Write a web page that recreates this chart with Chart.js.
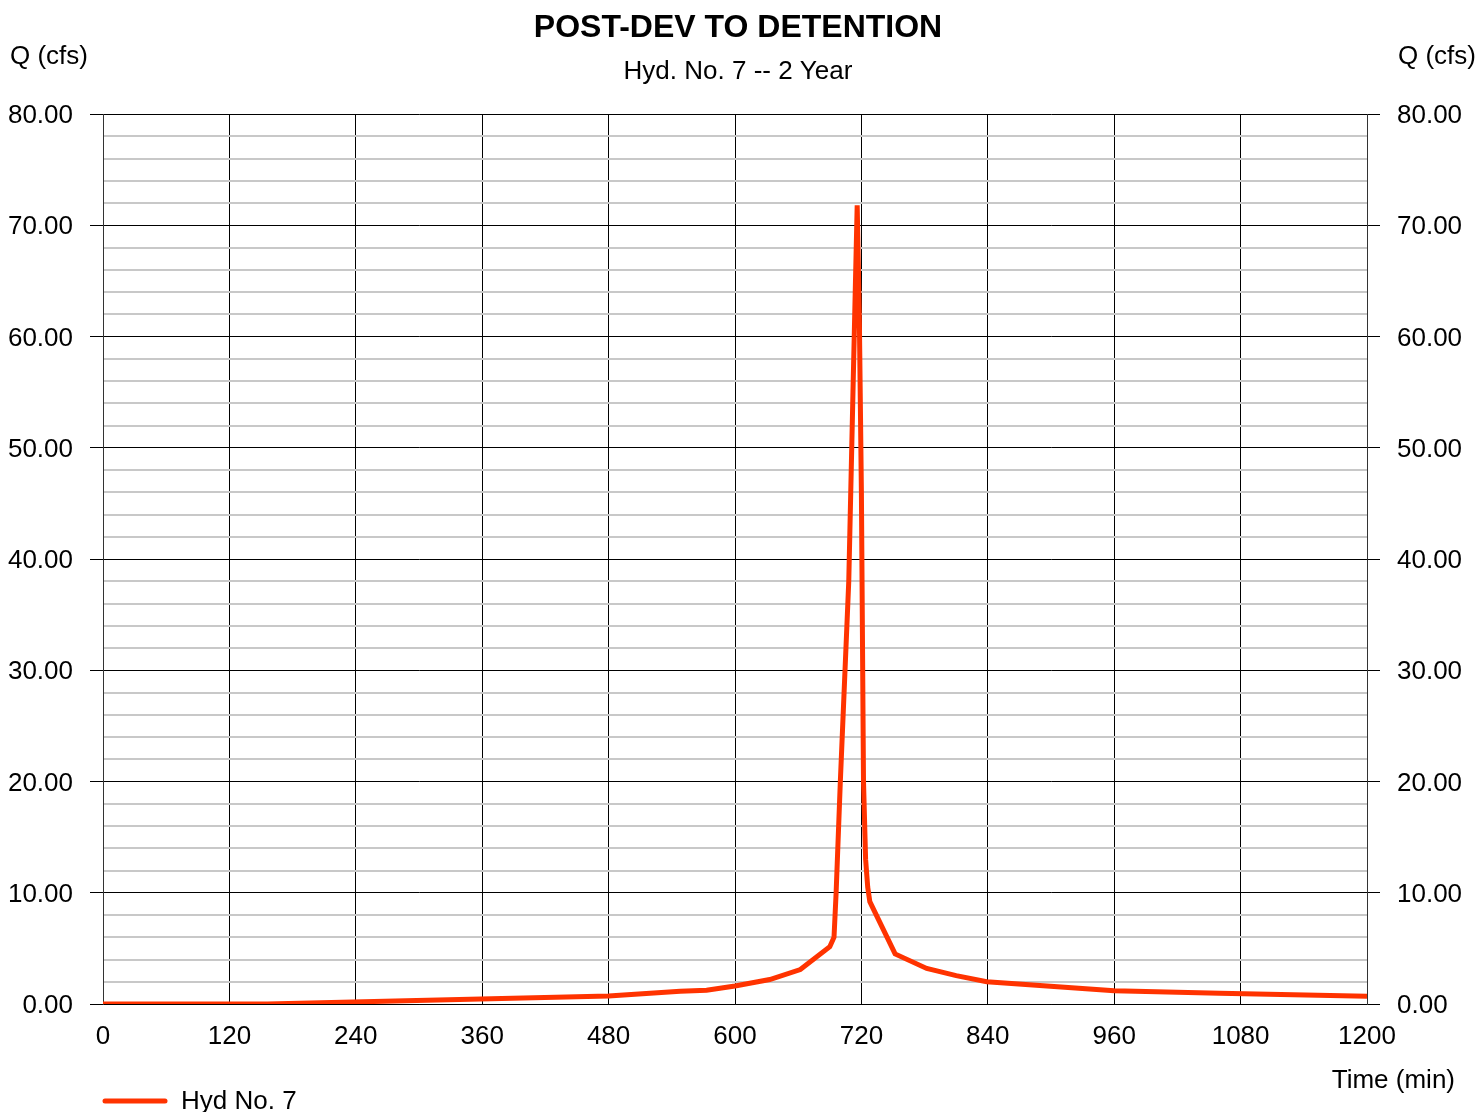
<!DOCTYPE html>
<html>
<head>
<meta charset="utf-8">
<title>POST-DEV TO DETENTION</title>
<script src="https://cdn.jsdelivr.net/npm/chart.js@4/dist/chart.umd.min.js"></script>
<style>
  html, body { margin: 0; padding: 0; background: #fff; }
  #wrap { width: 1476px; height: 1112px; }
</style>
</head>
<body>
<div id="wrap"><canvas id="hydChart" width="1476" height="1112"></canvas></div>
<script>
/* ==========================================================
   DATA — hydrograph
========================================================== */
const seriesLabel = "Hyd No. 7";
const timeMin = [0, 156, 480, 548, 573, 600, 633, 662, 690, 694, 696, 700, 704, 708, 712, 716,
                 718, 720, 722, 724, 726, 728, 752, 782, 810, 839, 960, 1060, 1200];
const flowCfs = [0, 0, 0.72, 1.14, 1.24, 1.62, 2.2, 3.1, 5.15, 6.0, 10, 20, 29, 38, 55, 71.8,
                 62, 46, 20, 13, 10.5, 9.2, 4.5, 3.2, 2.55, 2.0, 1.2, 0.96, 0.7];
const xTicks = [0, 120, 240, 360, 480, 600, 720, 840, 960, 1080, 1200];
const yMajor = [0, 10, 20, 30, 40, 50, 60, 70, 80];

const FONT = "'Liberation Sans', Arial, Helvetica, sans-serif";
const LINE_COLOR = "#ff3300";

/* ==========================================================
   TEXT OUTSIDE THE PLOT (axis titles + legend)
========================================================== */
const extraText = {
    id: "extraText",
    afterDraw(chart) {
        const ctx = chart.ctx;
        ctx.save();
        ctx.fillStyle = "#000";
        ctx.font = "26px " + FONT;
        ctx.textBaseline = "middle";

        ctx.textAlign = "left";
        ctx.fillText("Q (cfs)", 10, 57);
        ctx.textAlign = "right";
        ctx.fillText("Q (cfs)", 1476, 57);
        ctx.fillText("Time (min)", 1455, 1081);

        // legend
        const ds = chart.data.datasets[0];
        ctx.strokeStyle = ds.borderColor;
        ctx.lineWidth = 5;
        ctx.lineCap = "round";
        ctx.beginPath();
        ctx.moveTo(105, 1101);
        ctx.lineTo(165, 1101);
        ctx.stroke();
        ctx.textAlign = "left";
        ctx.fillText(ds.label, 181, 1102);
        ctx.restore();
    }
};

/* ==========================================================
   CHART
========================================================== */
const isMajor = (v) => yMajor.includes(v);

const yAxisBase = {
    type: "linear",
    min: 0,
    max: 80,
    ticks: {
        stepSize: 2,
        autoSkip: false,
        padding: 17,
        labelOffset: 2,
        color: "#000",
        font: { family: FONT, size: 26 },
        callback: (v) => (isMajor(v) ? v.toFixed(2) : "")
    },
    border: { display: true, color: "#333", width: 1 }
};

const ctx = document.getElementById("hydChart").getContext("2d");

new Chart(ctx, {
    type: "line",
    data: {
        datasets: [{
            label: seriesLabel,
            data: timeMin.map((t, i) => ({ x: t, y: flowCfs[i] })),
            borderColor: LINE_COLOR,
            backgroundColor: LINE_COLOR,
            borderWidth: 5,
            pointRadius: 0,
            tension: 0,
            fill: false
        }]
    },
    options: {
        responsive: false,
        animation: false,
        layout: { padding: 0 },
        plugins: {
            legend: { display: false },
            tooltip: { enabled: false },
            title: {
                display: true,
                text: "POST-DEV TO DETENTION",
                color: "#000",
                font: { family: FONT, size: 32, weight: "bold", lineHeight: 1.2 },
                padding: { top: 8.8, bottom: 0 }
            },
            subtitle: {
                display: true,
                text: "Hyd. No. 7 -- 2 Year",
                color: "#000",
                font: { family: FONT, size: 26, lineHeight: 1.2 },
                padding: { top: 9.2, bottom: 26.4 }
            }
        },
        scales: {
            x: {
                type: "linear",
                min: 0,
                max: 1200,
                afterBuildTicks: (scale) => { scale.ticks = xTicks.map(v => ({ value: v })); },
                afterFit: (scale) => { scale.height = 108; },
                ticks: {
                    padding: 17,
                    color: "#000",
                    font: { family: FONT, size: 26 },
                    maxRotation: 0,
                    callback: (v) => String(v)
                },
                grid: { color: "#000", lineWidth: 1, drawTicks: false },
                border: { display: true, color: "#000", width: 1 }
            },
            y: Object.assign({}, yAxisBase, {
                position: "left",
                afterFit: (scale) => { scale.width = 103; },
                grid: {
                    color: (c) => (isMajor(c.tick.value) ? "#000" : "#c8c8c8"),
                    lineWidth: (c) => (isMajor(c.tick.value) ? 1 : 2),
                    tickColor: (c) => (isMajor(c.tick.value) ? "#000" : "rgba(0,0,0,0)"),
                    tickLength: 13,
                    drawTicks: true
                }
            }),
            y2: Object.assign({}, yAxisBase, {
                position: "right",
                afterFit: (scale) => { scale.width = 109; },
                grid: {
                    drawOnChartArea: false,
                    tickColor: (c) => (isMajor(c.tick.value) ? "#000" : "rgba(0,0,0,0)"),
                    tickLength: 13,
                    drawTicks: true
                }
            })
        }
    },
    plugins: [extraText]
});
</script>
</body>
</html>
